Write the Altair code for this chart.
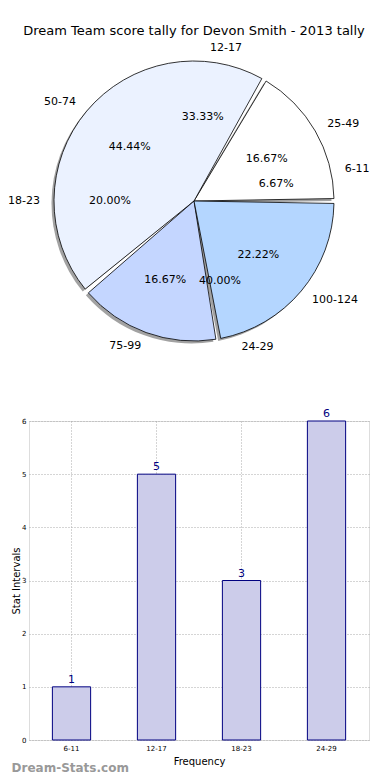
import altair as alt
import pandas as pd
import math

# ---- data ----
title_text = "Dream Team score tally for Devon Smith - 2013 tally"
series_a_labels = ["6-11", "12-17", "18-23", "24-29"]
series_a_values = [1, 5, 3, 6]
series_b_labels = ["25-49", "50-74", "75-99", "100-124"]
series_b_values = [3, 8, 3, 4]
series_b_colors = ["#ffffff", "#ebf2ff", "#c4d6ff", "#b4d6ff"]

bar_categories = ["6-11", "12-17", "18-23", "24-29"]
bar_values = [1, 5, 3, 6]
y_ticks = [0, 1, 2, 3, 4, 5, 6]

FONT = "DejaVu Sans"
R = 140

df_a = pd.DataFrame({"cat": series_a_labels, "value": series_a_values,
                     "idx": list(range(len(series_a_labels)))})
df_b = pd.DataFrame({"cat": series_b_labels, "value": series_b_values,
                     "idx": list(range(len(series_b_labels)))})

theta_scale = alt.Scale(domain=[0, 1], range=[2.5 * math.pi, 0.5 * math.pi])


def prep(chart):
    return (chart
            .transform_window(cum="sum(value)", sort=[alt.SortField("idx", order="ascending")],
                              frame=[None, 0])
            .transform_joinaggregate(total="sum(value)")
            .transform_calculate(
                start="(datum.cum - datum.value) / datum.total",
                end="datum.cum / datum.total",
                mid="(datum.cum - datum.value / 2) / datum.total",
                frac="datum.value / datum.total",
                right="cos(2 * PI * datum.mid) > 0",
            ))


W_PIE, H_PIE = 330, 308

base_b = prep(alt.Chart(df_b))
base_a = prep(alt.Chart(df_a))

shadow = base_b.mark_arc(radius=R, padAngle=0.035, color="#555555", opacity=0.55,
                         xOffset=-2.5, yOffset=2.5).encode(
    theta=alt.Theta("start:Q", scale=theta_scale, stack=None),
    theta2="end:Q",
)
arcs = base_b.mark_arc(radius=R, padAngle=0.035, stroke="#000000", strokeWidth=0.8).encode(
    theta=alt.Theta("start:Q", scale=theta_scale, stack=None),
    theta2="end:Q",
    color=alt.Color("cat:N", scale=alt.Scale(domain=series_b_labels, range=series_b_colors),
                    legend=None),
)


def label_layers(base):
    common = dict(radius=R * 1.1, fontSize=11, font=FONT, color="#000000", baseline="middle")
    right = base.transform_filter("datum.right").mark_text(align="left", **common).encode(
        theta=alt.Theta("mid:Q", scale=theta_scale, stack=None), text="cat:N")
    left = base.transform_filter("!datum.right").mark_text(align="right", **common).encode(
        theta=alt.Theta("mid:Q", scale=theta_scale, stack=None), text="cat:N")
    pct = base.mark_text(radius=R * 0.6, fontSize=11, font=FONT, color="#000000",
                         align="center", baseline="middle").encode(
        theta=alt.Theta("mid:Q", scale=theta_scale, stack=None),
        text=alt.Text("frac:Q", format=".2%"))
    return [right, left, pct]


pie = alt.layer(shadow, arcs, *label_layers(base_b), *label_layers(base_a)).properties(
    width=W_PIE, height=H_PIE,
    title=alt.TitleParams(title_text, fontSize=13, font=FONT, fontWeight="normal",
                          anchor="middle", color="#000000", offset=4),
)

df_bar = pd.DataFrame({"cat": bar_categories, "val": bar_values})
bbase = alt.Chart(df_bar).encode(
    x=alt.X("cat:N", sort=bar_categories, title="Frequency",
            scale=alt.Scale(paddingInner=0, paddingOuter=0),
            axis=alt.Axis(labelAngle=0, labelFontSize=7, labelFont=FONT, labelColor="#000",
                          titleFontSize=10, titleFont=FONT, titleFontWeight="normal",
                          titleColor="#000", titlePadding=5,
                          grid=True, gridDash=[1, 2], gridColor="#aaaaaa",
                          ticks=False, domain=False, labelPadding=4)),
    y=alt.Y("val:Q", title="Stat Intervals", scale=alt.Scale(domain=[0, 6], nice=False),
            axis=alt.Axis(values=y_ticks, labelFontSize=7, labelFont=FONT, labelColor="#000",
                          titleFontSize=10, titleFont=FONT, titleFontWeight="normal",
                          titleColor="#000", titlePadding=0,
                          grid=True, gridDash=[1, 2], gridColor="#aaaaaa",
                          ticks=False, domain=False, labelPadding=3)),
)
bars = bbase.mark_bar(width=alt.RelativeBandSize(0.45), color="#ccccea",
                      stroke="#000080", strokeWidth=1)
vals = bbase.mark_text(dy=-7, fontSize=11, font=FONT, color="#000080").encode(text="val:Q")

bar_chart = alt.layer(bars, vals).properties(
    width=340, height=319,
    title=alt.TitleParams("Dream-Stats.com", orient="bottom", anchor="start", frame="bounds",
                          fontSize=12, font=FONT, fontWeight="bold", color="#999999",
                          offset=-3),
)

chart = alt.vconcat(pie, bar_chart, spacing=52).properties(
    padding={"left": 0, "right": 0, "top": 16, "bottom": 0}
).configure_view(
    stroke="#000000", strokeWidth=1
).configure(background="#ffffff")

chart.save("out.html", embed_options={"renderer": "svg", "actions": False})
